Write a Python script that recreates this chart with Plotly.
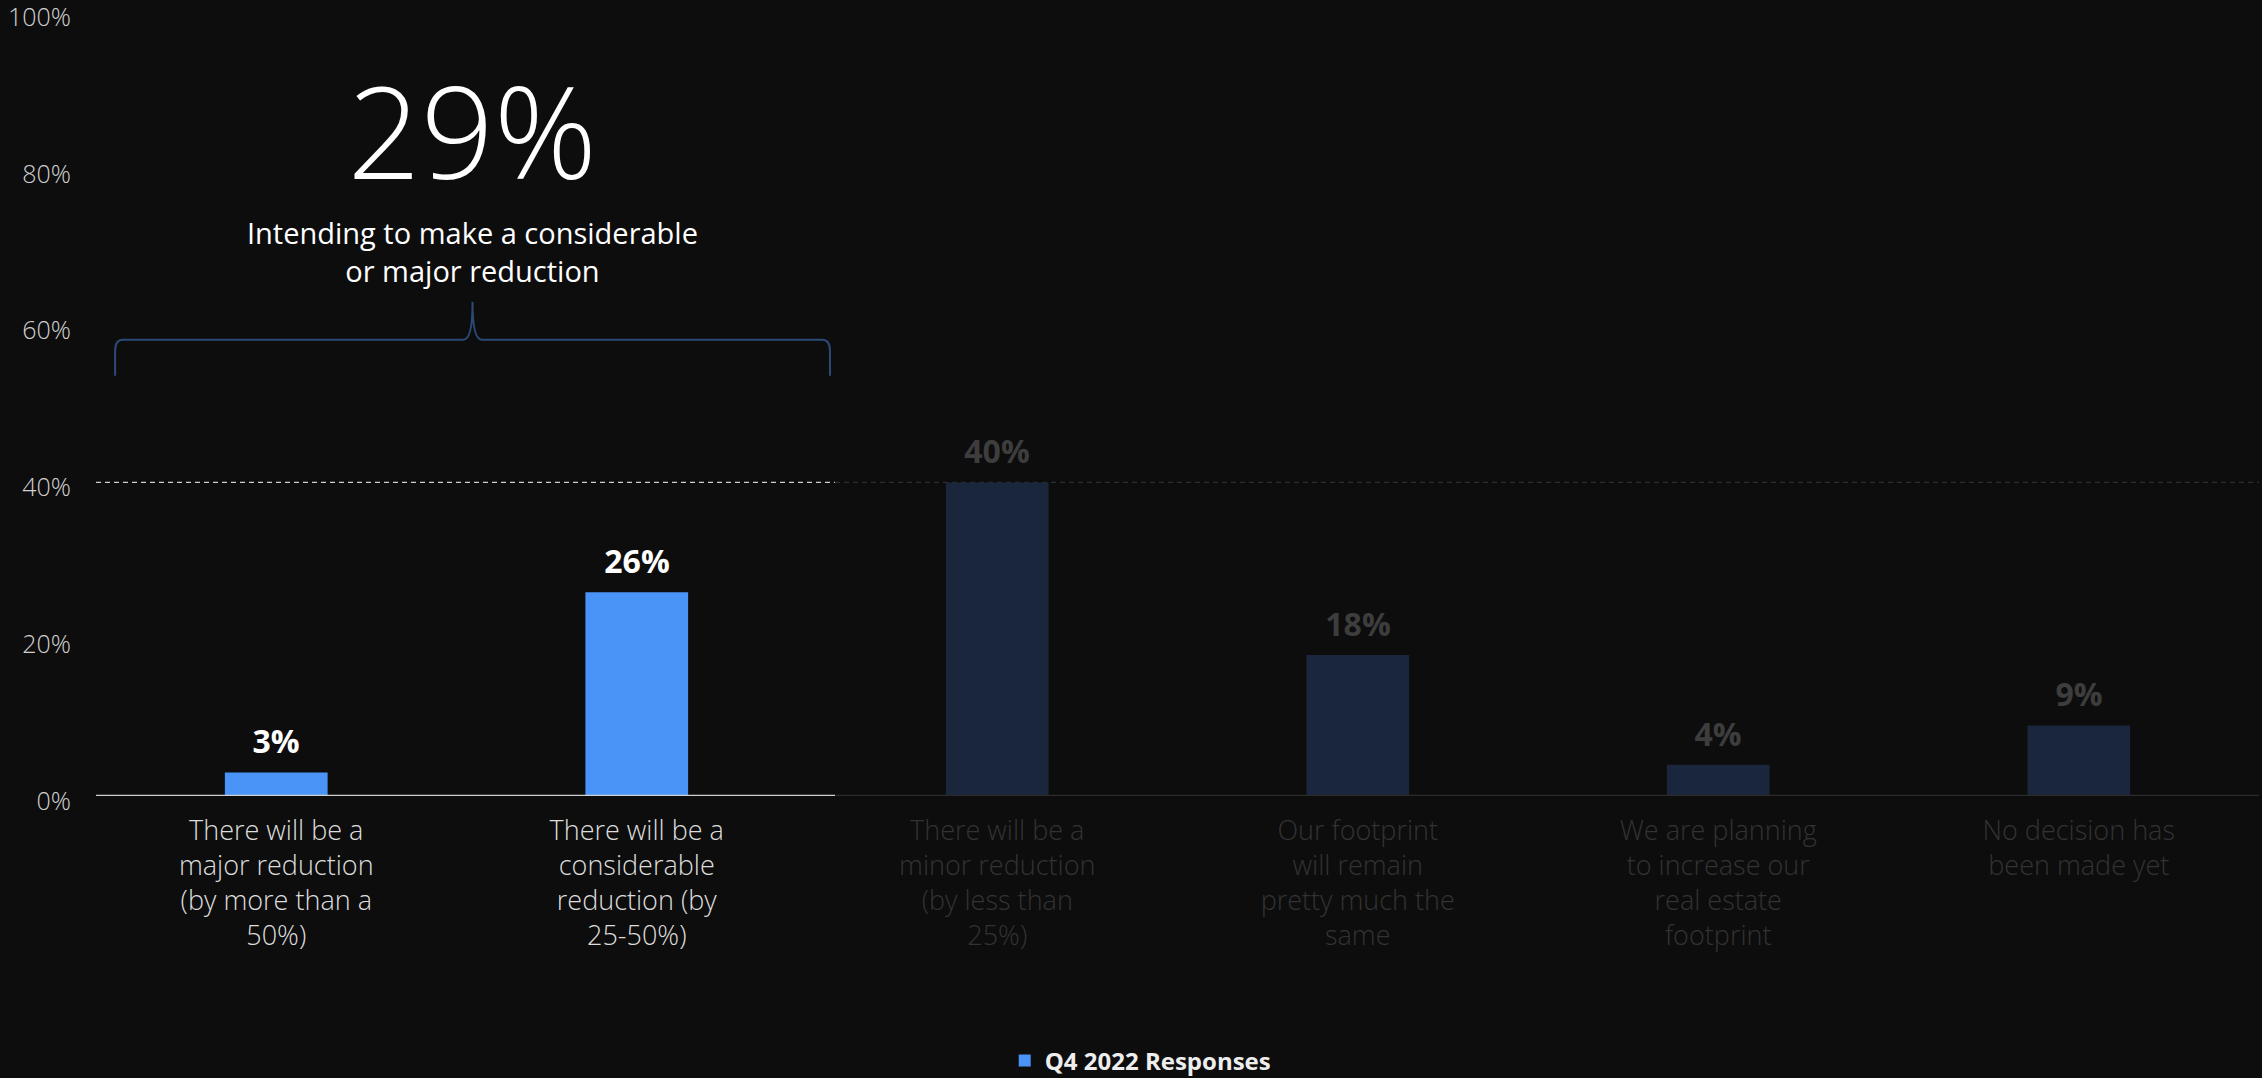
import plotly.graph_objects as go

# ---- data ----
categories = [
    "There will be a<br>major reduction<br>(by more than a<br>50%)",
    "There will be a<br>considerable<br>reduction (by<br>25-50%)",
    "There will be a<br>minor reduction<br>(by less than<br>25%)",
    "Our footprint<br>will remain<br>pretty much the<br>same",
    "We are planning<br>to increase our<br>real estate<br>footprint",
    "No decision has<br>been made yet",
]
values = [3, 26, 40, 18, 4, 9]
highlighted = [True, True, False, False, False, False]
series_name = "Q4 2022 Responses"
y_ticks = [0, 20, 40, 60, 80, 100]
y_tick_labels = ["0%", "20%", "40%", "60%", "80%", "100%"]
headline_value = "29%"
headline_text = "Intending to make a considerable<br>or major reduction"
reference_line = 40

# ---- styling ----
BG = "#0d0d0d"
BLUE = "#4a94f8"
NAVY = "#19263b"
LIGHT_FONT = "Source Sans Pro, Source Sans 3, Roboto, sans-serif"
BOLD_FONT = "Source Sans Pro, Source Sans 3, Roboto, sans-serif"

bar_colors = [BLUE if h else NAVY for h in highlighted]
label_colors = ["#ffffff" if h else "#3d3d3d" for h in highlighted]
cat_colors = ["#dddddd" if h else "#333333" for h in highlighted]

def colored(label, color):
    return "<br>".join(f"<span style='color:{color}'>{ln}</span>" for ln in label.split("<br>"))

fig = go.Figure()
fig.add_trace(go.Bar(
    x=categories, y=values, name=series_name,
    marker=dict(color=bar_colors, line=dict(width=0)),
    width=0.285, showlegend=True,
))

# value labels above bars
for c, v, col in zip(categories, values, label_colors):
    fig.add_annotation(
        x=c, y=v, text=f"<b>{v}%</b>", showarrow=False,
        yanchor="bottom", yshift=10,
        font=dict(family=BOLD_FONT, size=32, color=col),
    )

n = len(categories)
split = 1.55  # boundary between highlighted and dimmed region (category units)

# dashed reference line
fig.add_shape(type="line", xref="x", yref="y", x0=-0.5, x1=split,
              y0=reference_line, y1=reference_line, layer="below",
              line=dict(color="#cccccc", width=1.4, dash="5px,4px"))
fig.add_shape(type="line", xref="x", yref="y", x0=split, x1=n - 0.5,
              y0=reference_line, y1=reference_line, layer="below",
              line=dict(color="#2e2e2e", width=1.4, dash="5px,4px"))
# baseline
fig.add_shape(type="line", xref="x", yref="y", x0=-0.5, x1=split, y0=0, y1=0,
              line=dict(color="#d0d0d0", width=2.4))
fig.add_shape(type="line", xref="x", yref="y", x0=split, x1=n - 0.5, y0=0, y1=0,
              line=dict(color="#2b2b2b", width=2.4))

# brace over the highlighted categories
xl, xr = -0.447, 1.536
xm = (xl + xr) / 2
yb, yh, yp = 53.6, 58.2, 63.0
path = (f"M {xl},{yb} L {xl},{yh-1.4} Q {xl},{yh} {xl+0.022},{yh} "
        f"L {xm-0.025},{yh} Q {xm},{yh} {xm},{yp} Q {xm},{yh} {xm+0.025},{yh} "
        f"L {xr-0.022},{yh} Q {xr},{yh} {xr},{yh-1.4} L {xr},{yb}")
fig.add_shape(type="path", xref="x", yref="y", path=path,
              line=dict(color="#2b4a78", width=2))

fig.add_annotation(x=xm, y=84.2, xref="x", yref="y", text=headline_value,
                   showarrow=False, yanchor="middle",
                   font=dict(family=LIGHT_FONT, size=128, color="#ffffff", weight=300))
fig.add_annotation(x=xm, y=69.3, xref="x", yref="y", text=headline_text,
                   showarrow=False, yanchor="middle",
                   font=dict(family=LIGHT_FONT, size=29, color="#ffffff"))

fig.update_layout(
    width=2262, height=1078,
    paper_bgcolor=BG, plot_bgcolor=BG,
    margin=dict(l=96, r=3, t=12, b=282, autoexpand=False),
    bargap=0.7,
    legend=dict(orientation="h", x=0.483, xanchor="center", y=-0.338, yanchor="middle",
                font=dict(family="Open Sans, Noto Sans, sans-serif", size=24,
                          color="#eeeeee", weight=700),
                bgcolor="rgba(0,0,0,0)"),
    xaxis=dict(
        type="category", range=[-0.5, n - 0.5], automargin=False,
        tickmode="array", tickvals=categories,
        ticktext=[colored(c, col) for c, col in zip(categories, cat_colors)],
        tickfont=dict(family=LIGHT_FONT, size=27, color="#dddddd", weight=300),
        showgrid=False, zeroline=False, showline=False, ticks="",
        ticklabelstandoff=16,
    ),
    yaxis=dict(
        range=[0, 100], tickmode="array", tickvals=y_ticks, ticktext=y_tick_labels,
        automargin=False, ticklabeloverflow="allow", ticklabelshift=5,
        tickfont=dict(family=LIGHT_FONT, size=25, color="#d0d0d0", weight=300),
        showgrid=False, zeroline=False, showline=False, ticks="",
        ticklabelstandoff=24,
    ),
)

fig.write_html("out.html")
